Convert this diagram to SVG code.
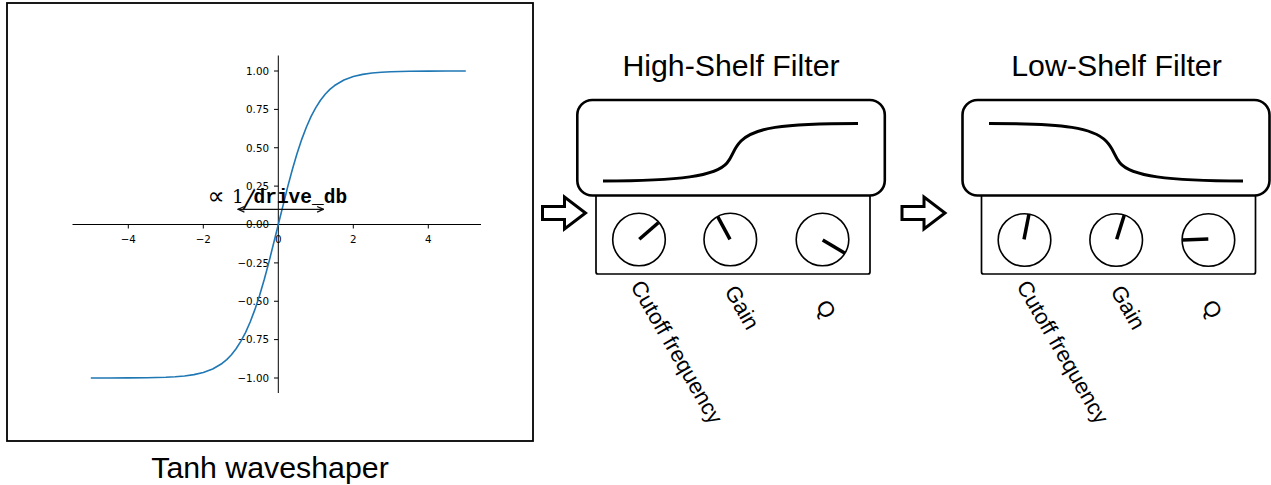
<svg xmlns="http://www.w3.org/2000/svg" width="1271" height="485" viewBox="0 0 1271 485">
  <style>
    .title { font-family: "Liberation Sans", Arial, sans-serif; font-size: 30.3px; fill: #000; text-anchor: middle; }
    .knoblabel { font-family: "Liberation Sans", Arial, sans-serif; font-size: 22px; fill: #000; }
    .tick { font-family: "DejaVu Sans", sans-serif; font-size: 10.3px; fill: #000; }
    .ytick { text-anchor: end; }
    .xtick { text-anchor: middle; }
    .axis { stroke: #000; stroke-width: 1; fill: none; }
    .panel { fill: #fff; stroke: #000; stroke-width: 1.7; }
    .screen { fill: #fff; stroke: #000; stroke-width: 2.6; }
    .response { fill: none; stroke: #000; stroke-width: 3; stroke-linecap: butt; }
    .dial { fill: #fff; stroke: #000; stroke-width: 1.6; }
    .pointer { stroke: #000; stroke-width: 3.5; stroke-linecap: butt; }
    .blockarrow { fill: #fff; stroke: #000; stroke-width: 3; stroke-linejoin: miter; }
  </style>
  <defs>
    <marker id="vhead" viewBox="0 0 10 10" refX="9" refY="5" markerWidth="8" markerHeight="8" markerUnits="userSpaceOnUse" orient="auto-start-reverse">
      <path d="M1,1.5 L9,5 L1,8.5" fill="none" stroke="#111" stroke-width="1.6"/>
    </marker>
    <!-- hollow block arrow, tail at origin, pointing right -->
    <polygon id="fatArrow" points="0,-6.5 22,-6.5 22,-16 43,0 22,16 22,6.5 0,6.5"/>
  </defs>

  <rect width="1271" height="485" fill="#fff"/>

  <!-- Tanh waveshaper plot -->
  <g id="waveshaper">
    <rect x="7" y="3" width="526" height="438" fill="#fff" stroke="#000" stroke-width="1.8"/>
    <!-- centred spines -->
    <line class="axis" x1="72.5" y1="224.5" x2="481" y2="224.5"/>
    <line class="axis" x1="278.3" y1="55.5" x2="278.3" y2="393"/>
    <!-- x ticks -->
    <g class="axis">
      <line x1="128.3" y1="224.5" x2="128.3" y2="228.5"/>
      <line x1="203.3" y1="224.5" x2="203.3" y2="228.5"/>
      <line x1="278.3" y1="224.5" x2="278.3" y2="228.5"/>
      <line x1="353.3" y1="224.5" x2="353.3" y2="228.5"/>
      <line x1="428.3" y1="224.5" x2="428.3" y2="228.5"/>
    </g>
    <g class="tick xtick">
      <text x="128.3" y="242.5">−4</text>
      <text x="203.3" y="242.5">−2</text>
      <text x="278.3" y="242.5">0</text>
      <text x="353.3" y="242.5">2</text>
      <text x="428.3" y="242.5">4</text>
    </g>
    <!-- y ticks -->
    <g class="axis">
      <line x1="274" y1="71" x2="278.3" y2="71"/>
      <line x1="274" y1="109.4" x2="278.3" y2="109.4"/>
      <line x1="274" y1="147.75" x2="278.3" y2="147.75"/>
      <line x1="274" y1="186.1" x2="278.3" y2="186.1"/>
      <line x1="274" y1="224.5" x2="278.3" y2="224.5"/>
      <line x1="274" y1="262.9" x2="278.3" y2="262.9"/>
      <line x1="274" y1="301.25" x2="278.3" y2="301.25"/>
      <line x1="274" y1="339.6" x2="278.3" y2="339.6"/>
      <line x1="274" y1="378" x2="278.3" y2="378"/>
    </g>
    <g class="tick ytick">
      <text x="269" y="74.7">1.00</text>
      <text x="269" y="113.1">0.75</text>
      <text x="269" y="151.5">0.50</text>
      <text x="269" y="189.8">0.25</text>
      <text x="269" y="228.2">0.00</text>
      <text x="269" y="266.6">−0.25</text>
      <text x="269" y="305">−0.50</text>
      <text x="269" y="343.3">−0.75</text>
      <text x="269" y="381.7">−1.00</text>
    </g>
    <!-- y = tanh(x), x in [-5, 5] -->
    <polyline fill="none" stroke="#1f77b4" stroke-width="1.6" stroke-linejoin="round"
      points="90.8,378 109.55,377.96 128.3,377.9 147.05,377.72 165.8,377.24 175.18,376.75 184.55,375.94 193.93,374.63 203.3,372.48 212.68,369 222.05,363.44 226.74,359.58 231.43,354.71 236.11,348.76 240.8,341.4 245.49,332.59 250.18,322 254.86,309.63 259.55,295.44 264.24,279.51 268.93,262.1 278.3,224.5 287.68,186.9 292.36,169.49 297.05,153.56 301.74,139.37 306.43,127 311.11,116.41 315.8,107.6 320.49,100.24 325.18,94.29 329.86,89.42 334.55,85.56 343.93,80 353.3,76.52 362.68,74.37 372.05,73.06 381.43,72.25 390.8,71.76 409.55,71.28 428.3,71.1 447.05,71.04 465.8,71.01"/>
    <!-- drive width annotation -->
    <text x="207.5" y="203.5" font-family="DejaVu Sans, sans-serif" font-size="24" fill="#000">∝</text>
    <text x="232" y="202.5" font-family="DejaVu Serif, serif" font-size="18.5" fill="#000">1</text>
    <text transform="translate(242.5,208) skewX(-14)" font-family="DejaVu Sans, sans-serif" font-size="25" fill="#000">/</text>
    <text x="253.5" y="202.5" font-family="Liberation Mono, monospace" font-weight="bold" font-size="19.5" fill="#000">drive_db</text>
    <line x1="238" y1="209.3" x2="323.5" y2="209.3" stroke="#111" stroke-width="1.3" marker-start="url(#vhead)" marker-end="url(#vhead)"/>
  </g>
  <text class="title" x="270" y="478">Tanh waveshaper</text>

  <!-- flow arrows -->
  <g id="connectors">
    <use href="#fatArrow" class="blockarrow" x="542.5" y="213"/>
    <use href="#fatArrow" class="blockarrow" x="902" y="213"/>
  </g>

  <!-- High-shelf filter -->
  <g id="high-shelf">
    <text class="title" x="731" y="76">High-Shelf Filter</text>
    <rect class="panel" x="596" y="185" width="274" height="89" rx="2"/>
    <rect class="screen" x="577.3" y="100" width="307.5" height="95.5" rx="15"/>
    <path class="response" d="M603,181 C680,181 716,176 727,163 C733,156 733,149 741,141 C754,128 780,123.5 858,123.5"/>
    <circle class="dial" cx="639" cy="239.5" r="26.3"/>
    <line class="pointer" x1="639.3" y1="239.3" x2="658.3" y2="222.7"/>
    <circle class="dial" cx="730.3" cy="239.5" r="26.3"/>
    <line class="pointer" x1="730" y1="239.3" x2="717.7" y2="216.7"/>
    <circle class="dial" cx="822.5" cy="239.5" r="26.3"/>
    <line class="pointer" x1="822.7" y1="240" x2="845" y2="253.3"/>
    <text class="knoblabel" transform="translate(630,286) rotate(60)">Cutoff frequency</text>
    <text class="knoblabel" transform="translate(724,291) rotate(60)">Gain</text>
    <text class="knoblabel" transform="translate(815.3,305.4) rotate(60)">Q</text>
  </g>

  <!-- Low-shelf filter -->
  <g id="low-shelf">
    <text class="title" x="1116.5" y="76">Low-Shelf Filter</text>
    <rect class="panel" x="981.5" y="185" width="274" height="89" rx="2"/>
    <rect class="screen" x="962.5" y="100" width="307" height="95.5" rx="15"/>
    <path class="response" d="M989,123.5 C1067,123.5 1093,128 1106,141 C1114,149 1114,156 1120,163 C1131,176 1167,181 1243,181"/>
    <circle class="dial" cx="1024.5" cy="240" r="26.3"/>
    <line class="pointer" x1="1024" y1="239.3" x2="1029" y2="214"/>
    <circle class="dial" cx="1116.2" cy="240" r="26.3"/>
    <line class="pointer" x1="1116.7" y1="239.3" x2="1124.3" y2="215"/>
    <circle class="dial" cx="1208.4" cy="240" r="26.3"/>
    <line class="pointer" x1="1208.3" y1="239" x2="1182.5" y2="240"/>
    <text class="knoblabel" transform="translate(1016,286) rotate(60)">Cutoff frequency</text>
    <text class="knoblabel" transform="translate(1110,291) rotate(60)">Gain</text>
    <text class="knoblabel" transform="translate(1201.5,305.4) rotate(60)">Q</text>
  </g>
</svg>
